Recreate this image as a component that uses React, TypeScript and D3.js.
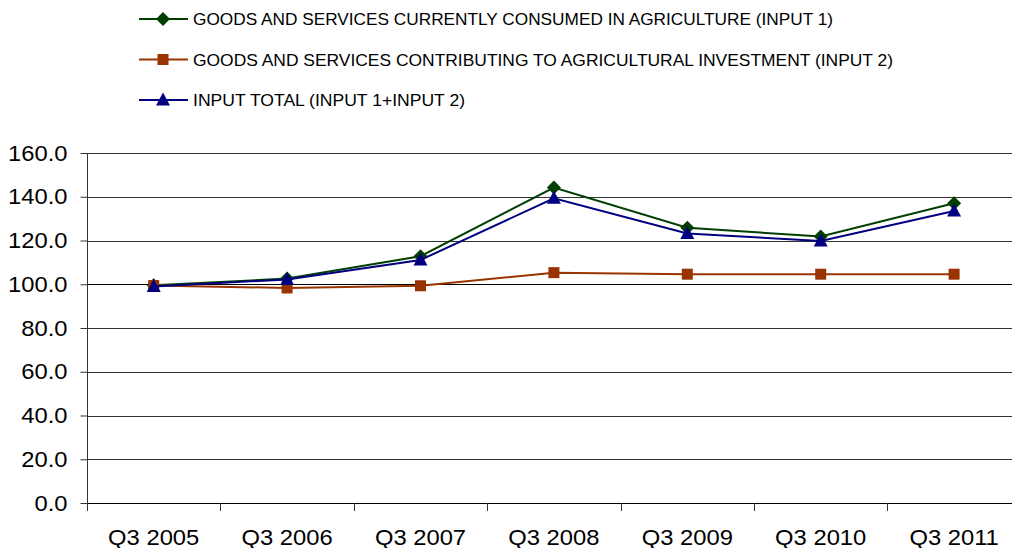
import React, { useEffect, useRef } from 'react';
import * as d3 from 'd3';

const WIDTH = 1012;
const HEIGHT = 548;
const PLOT = { left: 87, top: 153, bottom: 503, band: 133.4 };

const categories = ['Q3 2005', 'Q3 2006', 'Q3 2007', 'Q3 2008', 'Q3 2009', 'Q3 2010', 'Q3 2011'];
const input1 = [99.5, 102.6, 112.8, 144.2, 125.8, 121.8, 137.0];
const input2 = [99.4, 98.3, 99.3, 105.3, 104.6, 104.6, 104.6];
const inputTotal = [99.0, 102.2, 111.1, 139.3, 123.2, 119.8, 133.5];
const yTicks = [0, 20, 40, 60, 80, 100, 120, 140, 160];

type Series = { name: string; values: number[]; color: string; marker: 'diamond' | 'square' | 'triangle'; legendWidth: number };

const series: Series[] = [
  { name: 'GOODS AND SERVICES CURRENTLY CONSUMED IN AGRICULTURE (INPUT 1)', values: input1, color: '#003f00', marker: 'diamond', legendWidth: 640 },
  { name: 'GOODS AND SERVICES CONTRIBUTING TO AGRICULTURAL INVESTMENT (INPUT 2)', values: input2, color: '#993300', marker: 'square', legendWidth: 700 },
  { name: 'INPUT TOTAL (INPUT 1+INPUT 2)', values: inputTotal, color: '#000080', marker: 'triangle', legendWidth: 272 },
];

const markerPath = (m: Series['marker']) => {
  if (m === 'diamond') return 'M0,-7L7,0L0,7L-7,0Z';
  if (m === 'square') return 'M-5.5,-5.5H5.5V5.5H-5.5Z';
  return 'M0,-7.5L7,5.5H-7Z';
};

export default function App() {
  const ref = useRef<SVGSVGElement>(null);

  useEffect(() => {
    if (!ref.current) return;
    const svg = d3.select(ref.current);
    svg.selectAll('*').remove();

    const x = d3
      .scaleBand()
      .domain(categories)
      .range([PLOT.left, PLOT.left + PLOT.band * categories.length])
      .padding(0);

    const y = d3.scaleLinear().domain([0, 160]).range([PLOT.bottom, PLOT.top]);
    const cx = (c: string) => x(c)! + x.bandwidth() / 2;

    // gridlines
    svg
      .append('g')
      .selectAll('line')
      .data(yTicks)
      .enter()
      .append('line')
      .attr('x1', PLOT.left)
      .attr('x2', WIDTH)
      .attr('y1', (d) => Math.round(y(d)) + 0.5)
      .attr('y2', (d) => Math.round(y(d)) + 0.5)
      .attr('stroke', (d) => (d === 0 || d === 100 ? '#000' : '#333'))
      .attr('stroke-width', 1);

    // y axis
    const yAxis = d3.axisLeft(y).tickValues(yTicks).tickSize(7).tickFormat((d) => (d as number).toFixed(1));
    const yg = svg.append('g').attr('transform', `translate(${PLOT.left + 0.5},0)`).call(yAxis);
    yg.select('.domain').attr('stroke', '#333').attr('d', `M0,${PLOT.top}V${PLOT.bottom}`);
    yg.selectAll('.tick line').attr('stroke', '#333');
    yg.selectAll('.tick text')
      .attr('x', -20)
      .attr('fill', '#000')
      .style('font-family', 'Liberation Sans, Arial, sans-serif')
      .style('font-size', '22px');

    // x axis
    const xAxis = d3.axisBottom(x).tickSize(0).tickSizeOuter(0);
    const xg = svg.append('g').attr('transform', `translate(0,${PLOT.bottom + 0.5})`).call(xAxis);
    xg.select('.domain').remove();
    xg.selectAll('.tick line').remove();
    xg.selectAll('.tick text')
      .attr('y', 41)
      .attr('dy', '0')
      .attr('fill', '#000')
      .style('font-family', 'Liberation Sans, Arial, sans-serif')
      .style('font-size', '22px');
    svg
      .append('g')
      .selectAll('line')
      .data(categories)
      .enter()
      .append('line')
      .attr('x1', (d) => Math.round(x(d)!) + 0.5)
      .attr('x2', (d) => Math.round(x(d)!) + 0.5)
      .attr('y1', PLOT.bottom)
      .attr('y2', PLOT.bottom + 8)
      .attr('stroke', '#333');

    // widen tick glyphs like the original rendering
    svg.selectAll<SVGTextElement, unknown>('.tick text').each(function () {
      const w = this.getComputedTextLength();
      d3.select(this).attr('textLength', w * 1.08).attr('lengthAdjust', 'spacingAndGlyphs');
    });

    // lines + markers
    const line = d3
      .line<number>()
      .x((_, i) => cx(categories[i]))
      .y((d) => y(d));

    series.forEach((s) => {
      svg
        .append('path')
        .datum(s.values)
        .attr('d', line)
        .attr('fill', 'none')
        .attr('stroke', s.color)
        .attr('stroke-width', 2);
      svg
        .append('g')
        .selectAll('path')
        .data(s.values)
        .enter()
        .append('path')
        .attr('transform', (d, i) => `translate(${cx(categories[i])},${y(d)})`)
        .attr('d', markerPath(s.marker))
        .attr('fill', s.color);
    });

    // legend
    const legend = svg.append('g');
    series.forEach((s, i) => {
      const ly = 19 + i * 40.5;
      const g = legend.append('g').attr('transform', `translate(0,${ly})`);
      g.append('line').attr('x1', 139).attr('x2', 188).attr('y1', 0).attr('y2', 0).attr('stroke', s.color).attr('stroke-width', 2);
      g.append('path').attr('transform', 'translate(163,0)').attr('d', markerPath(s.marker)).attr('fill', s.color);
      g.append('text')
        .attr('x', 193)
        .attr('y', 0)
        .attr('dy', '0.36em')
        .attr('textLength', s.legendWidth)
        .attr('lengthAdjust', 'spacingAndGlyphs')
        .style('font-family', 'Liberation Sans, Arial, sans-serif')
        .style('font-size', '17px')
        .style('fill', '#000')
        .text(s.name);
    });
  }, []);

  return (
    <svg
      ref={ref}
      width={WIDTH}
      height={HEIGHT}
      style={{ position: 'absolute', left: 0, top: 0, background: '#fff' }}
    />
  );
}
